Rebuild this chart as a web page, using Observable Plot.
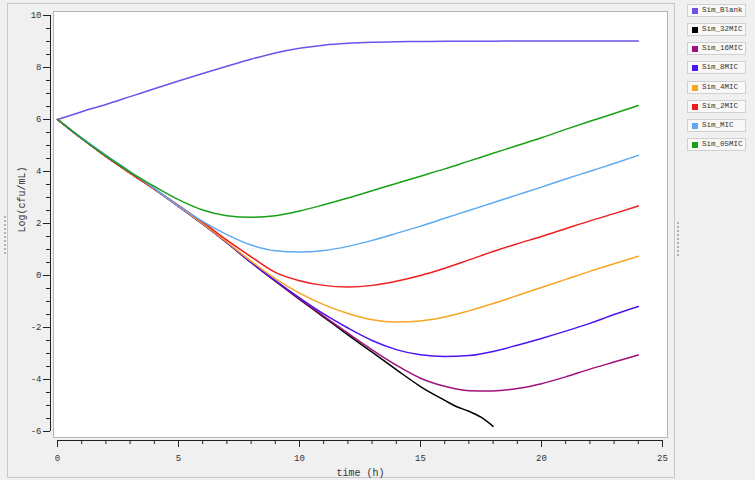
<!DOCTYPE html>
<html><head><meta charset="utf-8">
<script src="https://cdn.jsdelivr.net/npm/d3@7"></script>
<script src="https://cdn.jsdelivr.net/npm/@observablehq/plot@0.6"></script>
<style>
html,body{margin:0;padding:0;background:#f0f0f0;}
#wrap{position:relative;width:755px;height:480px;overflow:hidden;font-family:"Liberation Mono",monospace;background:#f0f0f0;}
#panel{position:absolute;left:7px;top:3px;width:666px;height:473px;border:1px solid #c6c6c6;}
#chart{position:absolute;left:0;top:0;}
.grip{position:absolute;width:0;border-left:2px dotted #b0b0b0;}
.item{position:absolute;left:687px;width:57px;height:11px;border:1px solid #d0d0d0;background:#f8f8f8;}
.sw{position:absolute;left:4px;top:3px;width:6px;height:6px;}
.lb{position:absolute;left:14px;top:0;font-size:7.5px;line-height:11px;color:#333;white-space:nowrap;}
</style></head>
<body>
<div id="wrap">
  <div id="panel"></div>
  <div class="grip" style="left:4px;top:216px;height:38px;"></div>
  <div class="grip" style="left:677px;top:222px;height:34px;"></div>
  <div id="chart"></div>
  <div id="legend"></div>
</div>
<script>
const seriesNames = ["Sim_Blank","Sim_32MIC","Sim_16MIC","Sim_8MIC","Sim_4MIC","Sim_2MIC","Sim_MIC","Sim_05MIC"];
const seriesColors = ["#7050e8","#000000","#a0107e","#4c14f0","#f5a623","#ee1e1e","#5eaaf0","#18a018"];

const hours = [0,1,2,3,4,5,6,7,8,9,10,11,12,13,14,15,16,17,18,19,20,21,22,23,24];
const hours32 = [0,1,2,3,4,5,6,7,8,9,10,11,12,13,14,15,16,16.5,17,17.5,18];

const simBlank = [6.0,6.3,6.58,6.88,7.18,7.48,7.77,8.05,8.32,8.56,8.74,8.86,8.93,8.97,8.99,9.0,9.01,9.01,9.01,9.02,9.02,9.02,9.02,9.02,9.02];
const sim32MIC = [6.0,5.27,4.58,3.94,3.32,2.66,1.98,1.26,0.5,-0.22,-0.92,-1.6,-2.28,-2.95,-3.62,-4.27,-4.8,-5.05,-5.22,-5.45,-5.8];
const sim16MIC = [6.0,5.27,4.58,3.94,3.32,2.66,1.98,1.26,0.5,-0.21,-0.9,-1.56,-2.22,-2.86,-3.45,-3.95,-4.26,-4.43,-4.44,-4.35,-4.16,-3.9,-3.6,-3.33,-3.06];
const sim8MIC = [6.0,5.27,4.58,3.94,3.32,2.66,1.98,1.26,0.5,-0.2,-0.86,-1.48,-2.02,-2.5,-2.85,-3.05,-3.12,-3.08,-2.92,-2.68,-2.42,-2.14,-1.84,-1.5,-1.19];
const sim4MIC = [6.0,5.27,4.58,3.94,3.32,2.67,1.99,1.28,0.55,-0.12,-0.68,-1.12,-1.46,-1.7,-1.79,-1.75,-1.6,-1.36,-1.08,-0.77,-0.46,-0.15,0.16,0.45,0.74];
const sim2MIC = [6.0,5.27,4.58,3.95,3.33,2.7,2.05,1.36,0.72,0.12,-0.2,-0.38,-0.44,-0.38,-0.22,0.0,0.28,0.6,0.92,1.22,1.5,1.8,2.1,2.38,2.67];
const simMIC = [6.0,5.3,4.63,4.0,3.35,2.68,2.08,1.57,1.17,0.95,0.9,0.96,1.12,1.35,1.62,1.9,2.2,2.5,2.8,3.1,3.4,3.71,4.01,4.31,4.62];
const sim05MIC = [6.0,5.27,4.6,3.98,3.43,2.92,2.52,2.3,2.24,2.3,2.48,2.72,2.98,3.26,3.54,3.82,4.1,4.4,4.7,5.0,5.3,5.62,5.93,6.23,6.54];

const xMajor = [0,5,10,15,20,25];
const xMinor = d3.range(0, 26, 1);
const yMajor = [-6,-4,-2,0,2,4,6,8,10];
const yMinor = d3.range(-6, 10.01, 0.5);
const xLabel = "time (h)";
const yLabel = "Log(cfu/mL)";

const seriesValues = [simBlank, sim32MIC, sim16MIC, sim8MIC, sim4MIC, sim2MIC, simMIC, sim05MIC];
const rows = [];
seriesNames.forEach((name, i) => {
  const ts = name === "Sim_32MIC" ? hours32 : hours;
  seriesValues[i].forEach((v, j) => rows.push({s: name, t: ts[j], v}));
});

const font = "Liberation Mono, monospace";
const chart = Plot.plot({
  width: 680, height: 480,
  marginLeft: 53, marginRight: 13, marginTop: 11, marginBottom: 43,
  style: {background: "transparent", fontFamily: font, fontSize: "9px", color: "#333", fontWeight: "400"},
  x: {domain: [0, 25], range: [57, 662], label: null},
  y: {domain: [-6, 10], range: [431, 15], label: null},
  color: {domain: seriesNames, range: seriesColors},
  marks: [
    Plot.frame({fill: "white", stroke: "#b4b4b4"}),
    Plot.ruleX([0], {y1: -6, y2: 10, dx: -7, stroke: "#222"}),
    Plot.ruleY([-6], {x1: 0, x2: 25, dy: 9, stroke: "#222"}),
    Plot.axisY({ticks: yMinor, tickSize: 4, dx: -3, tickFormat: () => "", label: null, stroke: "#222"}),
    Plot.axisY({ticks: yMajor, tickSize: 7, dx: -3, tickPadding: 2, label: null, stroke: "#222", fill: "#333", tickFormat: d => String(d)}),
    Plot.axisX({ticks: xMinor, tickSize: 4, dy: 3, tickFormat: () => "", label: null, stroke: "#222"}),
    Plot.axisX({ticks: xMajor, tickSize: 7, dy: 3, tickPadding: 7, label: null, stroke: "#222", fill: "#333", tickFormat: d => String(d)}),
    Plot.text([yLabel], {frameAnchor: "left", dx: -32, dy: 8, rotate: -90, fontSize: 10, fontWeight: "normal", fill: "#333"}),
    Plot.text([xLabel], {frameAnchor: "bottom", dy: 38, fontSize: 10, fontWeight: "normal", fill: "#333"}),
    Plot.line(rows, {x: "t", y: "v", z: "s", stroke: "s", strokeWidth: 1.5, curve: "monotone-x"})
  ]
});
document.getElementById("chart").appendChild(chart);

const legend = document.getElementById("legend");
const legendCenters = [10, 29, 48, 67, 86.5, 105.5, 125, 144];
seriesNames.forEach((name, i) => {
  const item = document.createElement("div");
  item.className = "item";
  item.style.top = (legendCenters[i] - 6) + "px";
  const sw = document.createElement("div");
  sw.className = "sw";
  sw.style.background = seriesColors[i];
  const lb = document.createElement("div");
  lb.className = "lb";
  lb.textContent = name;
  item.appendChild(sw); item.appendChild(lb);
  legend.appendChild(item);
});
</script>
</body></html>
